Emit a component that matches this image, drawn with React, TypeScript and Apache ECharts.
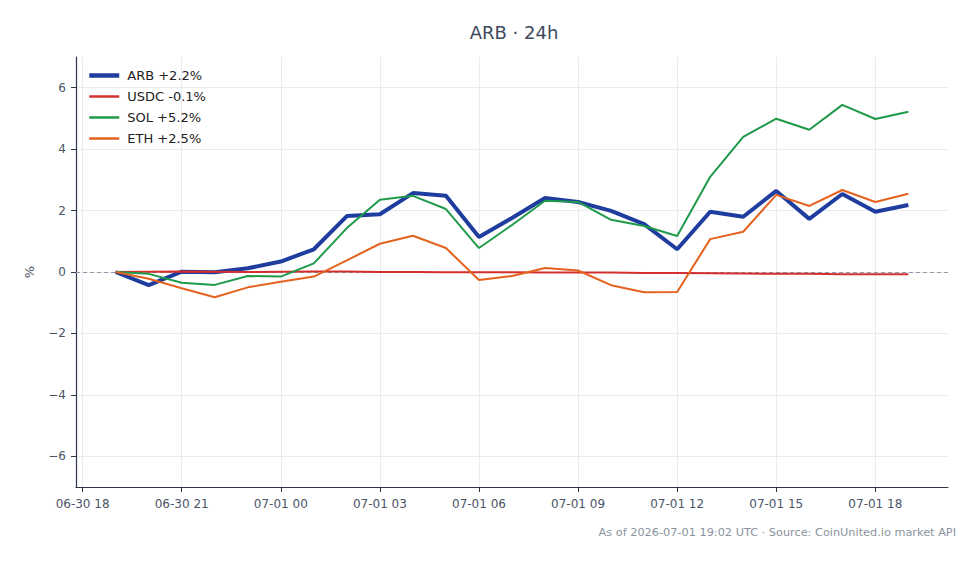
import React, { useEffect, useRef } from "react";
import * as echarts from "echarts";

const FONT = "DejaVu Sans";

const times = [
  "2026-06-30T19:00:00", "2026-06-30T20:00:00", "2026-06-30T21:00:00", "2026-06-30T22:00:00",
  "2026-06-30T23:00:00", "2026-07-01T00:00:00", "2026-07-01T01:00:00", "2026-07-01T02:00:00",
  "2026-07-01T03:00:00", "2026-07-01T04:00:00", "2026-07-01T05:00:00", "2026-07-01T06:00:00",
  "2026-07-01T07:00:00", "2026-07-01T08:00:00", "2026-07-01T09:00:00", "2026-07-01T10:00:00",
  "2026-07-01T11:00:00", "2026-07-01T12:00:00", "2026-07-01T13:00:00", "2026-07-01T14:00:00",
  "2026-07-01T15:00:00", "2026-07-01T16:00:00", "2026-07-01T17:00:00", "2026-07-01T18:00:00",
  "2026-07-01T19:00:00",
];

const arb = [0, -0.43, 0.01, -0.01, 0.12, 0.34, 0.74, 1.82, 1.88, 2.57, 2.48, 1.14, 1.76, 2.41, 2.28, 1.99, 1.56, 0.74, 1.96, 1.8, 2.64, 1.73, 2.54, 1.96, 2.18];
const usdc = [0, 0.01, 0.02, 0.01, 0.0, 0.01, 0.02, 0.02, 0.0, 0.0, -0.01, -0.01, -0.01, -0.02, -0.02, -0.02, -0.03, -0.03, -0.04, -0.05, -0.06, -0.06, -0.07, -0.07, -0.07];
const sol = [0, -0.06, -0.35, -0.42, -0.13, -0.15, 0.28, 1.43, 2.35, 2.48, 2.05, 0.78, 1.53, 2.32, 2.28, 1.7, 1.5, 1.17, 3.1, 4.4, 4.99, 4.63, 5.44, 4.98, 5.22];
const eth = [0, -0.22, -0.53, -0.82, -0.5, -0.32, -0.15, 0.38, 0.92, 1.18, 0.78, -0.26, -0.13, 0.13, 0.05, -0.43, -0.66, -0.65, 1.07, 1.31, 2.51, 2.15, 2.67, 2.28, 2.55];

const seriesNames = ["ARB +2.2%", "USDC -0.1%", "SOL +5.2%", "ETH +2.5%"];
const seriesColors = ["#1f3d9e", "#d32f2f", "#1f9a4a", "#e4621e"];
const seriesWidths = [4, 2, 2, 2];

const xTicks = [
  "2026-06-30T18:00:00", "2026-06-30T21:00:00", "2026-07-01T00:00:00", "2026-07-01T03:00:00",
  "2026-07-01T06:00:00", "2026-07-01T09:00:00", "2026-07-01T12:00:00", "2026-07-01T15:00:00",
  "2026-07-01T18:00:00",
];
const yTicks = [-6, -4, -2, 0, 2, 4, 6];

const xMinStr = "2026-06-30T17:48:00";
const xMaxStr = "2026-07-01T20:12:00";

const pad = (n: number) => (n < 10 ? "0" + n : "" + n);
const fmtTime = (v: number) => {
  const d = new Date(v);
  return `${pad(d.getMonth() + 1)}-${pad(d.getDate())} ${pad(d.getHours())}`;
};

export default function App() {
  const ref = useRef<HTMLDivElement>(null);

  useEffect(() => {
    if (!ref.current) return;
    const chart = echarts.init(ref.current, null, { renderer: "svg" });
    const ts = times.map((t) => new Date(t).getTime());
    const tickTs = xTicks.map((t) => new Date(t).getTime());
    const all = [arb, usdc, sol, eth];

    const series: any[] = all.map((vals, i) => ({
      name: seriesNames[i],
      type: "line",
      symbol: "none",
      data: vals.map((v, j) => [ts[j], v]),
      lineStyle: { color: seriesColors[i], width: seriesWidths[i] },
      itemStyle: { color: seriesColors[i] },
      z: 3,
      ...(i === 0
        ? {
            markLine: {
              silent: true,
              symbol: "none",
              label: { show: false },
              lineStyle: { type: [4, 3], color: "#8f99a8", width: 1 },
              data: [{ yAxis: 0 }],
              z: 1,
            },
          }
        : {}),
    }));

    chart.setOption({
      animation: false,
      backgroundColor: "#ffffff",
      textStyle: { fontFamily: FONT },
      title: {
        text: "ARB · 24h",
        left: 509,
        top: 18,
        textAlign: "center",
        textStyle: { fontFamily: FONT, fontSize: 18, fontWeight: "normal", color: "#3d4a5c" },
      },
      legend: {
        orient: "vertical",
        left: 87,
        top: 69,
        padding: 0,
        itemWidth: 30,
        itemHeight: 14,
        itemGap: 8,
        itemStyle: { opacity: 0 },
        textStyle: { fontFamily: FONT, fontSize: 13, color: "#222222", padding: [0, 0, 0, 3] },
        data: seriesNames.map((n, i) => ({
          name: n,
          lineStyle: { width: i === 0 ? 4.5 : 2.5, color: seriesColors[i] },
        })),
      },
      grid: { left: 76, right: 32, top: 57, bottom: 77, containLabel: false },
      xAxis: {
        type: "value",
        min: new Date(xMinStr).getTime(),
        max: new Date(xMaxStr).getTime(),
        axisLine: { show: true, onZero: false, lineStyle: { color: "#2d3748", width: 1.2 } },
        axisTick: {
          show: true,
          length: 5,
          lineStyle: { color: "#2d3748" },
          customValues: tickTs,
        },
        axisLabel: {
          color: "#4a5568",
          fontFamily: FONT,
          fontSize: 12,
          margin: 11,
          customValues: tickTs,
          formatter: (v: number) => fmtTime(v),
          hideOverlap: false,
        },
        splitLine: { show: true, lineStyle: { color: "#e8ebef", width: 1 } },
      },
      yAxis: {
        type: "value",
        min: -7,
        max: 7,
        name: "%",
        nameLocation: "middle",
        nameGap: 40,
        nameRotate: 90,
        nameTextStyle: { color: "#4a5568", fontFamily: FONT, fontSize: 13 },
        axisLine: { show: true, onZero: false, lineStyle: { color: "#2d3748", width: 1.2 } },
        axisTick: { show: true, length: 5, lineStyle: { color: "#2d3748" }, customValues: yTicks },
        axisLabel: {
          color: "#4a5568",
          fontFamily: FONT,
          fontSize: 12,
          margin: 10,
          customValues: yTicks,
          formatter: (v: number) => (v < 0 ? "\u2212" + Math.abs(v) : String(v)),
        },
        splitLine: { show: true, lineStyle: { color: "#e8ebef", width: 1 } },
      },
      graphic: [
        {
          type: "text",
          right: 24,
          top: 527,
          style: {
            text: "As of 2026-07-01 19:02 UTC · Source: CoinUnited.io market API",
            fill: "#8a939e",
            font: `11.3px "${FONT}"`,
          },
        },
      ],
      series,
    });

    return () => chart.dispose();
  }, []);

  return (
    <div
      ref={ref}
      style={{ position: "fixed", left: 0, top: 0, width: 980, height: 564 }}
    />
  );
}
